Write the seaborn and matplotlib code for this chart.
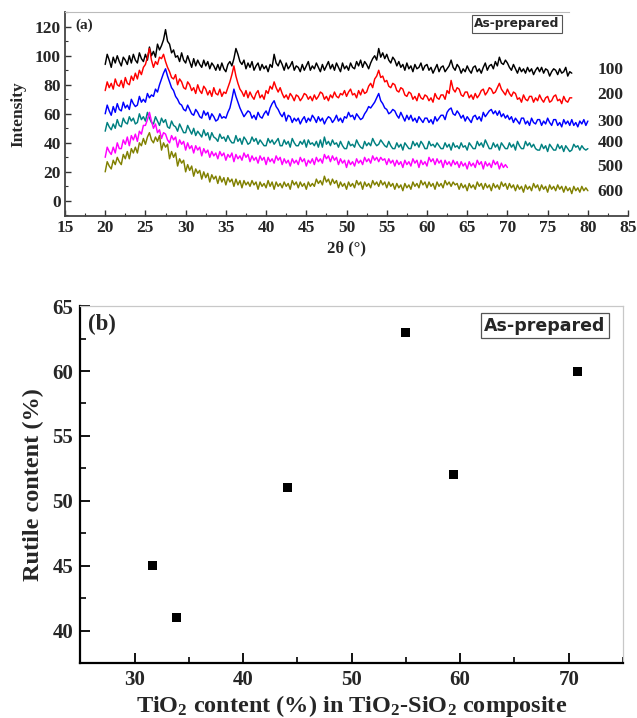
import numpy as np
import pandas as pd
import matplotlib
matplotlib.use("Agg")
import matplotlib.pyplot as plt
from matplotlib.ticker import MultipleLocator
import seaborn as sns

# ---------------- data: panel (a) XRD traces (2theta from 20 deg, step 0.25 deg) ----------------
x_start = 20.0
x_step = 0.25
trace_100 = [94, 101, 97, 92, 99, 95, 100, 96,
             93, 99, 97, 94, 100, 95, 101, 97,
             95, 102, 98, 96, 101, 97, 106, 100,
             103, 99, 108, 104, 107, 111, 118, 110,
             108, 102, 104, 99, 100, 96, 102, 97,
             95, 100, 96, 92, 98, 93, 97, 94,
             92, 97, 93, 96, 91, 95, 93, 90,
             94, 90, 95, 91, 89, 94, 96, 93,
             98, 105, 101, 96, 94, 97, 91, 95,
             92, 96, 90, 93, 95, 90, 94, 91,
             93, 89, 94, 92, 101, 95, 93, 97,
             94, 90, 95, 91, 93, 96, 90, 93,
             92, 89, 94, 90, 93, 96, 90, 93,
             91, 95, 92, 89, 94, 90, 93, 96,
             91, 94, 90, 95, 92, 89, 95, 91,
             93, 90, 95, 92, 91, 96, 93, 97,
             92, 96, 94, 91, 95, 98, 100, 97,
             105, 99, 102, 98, 101, 97, 95, 99,
             97, 93, 96, 92, 94, 90, 95, 91,
             93, 89, 94, 91, 92, 95, 90, 93,
             94, 90, 92, 88, 91, 94, 89, 92,
             93, 89, 91, 93, 97, 92, 90, 94,
             92, 88, 91, 89, 93, 90, 88, 92,
             93, 89, 91, 88, 92, 95, 90, 93,
             94, 91, 96, 93, 99, 95, 94, 97,
             95, 92, 90, 94, 91, 88, 92, 89,
             91, 88, 92, 89, 91, 87, 90, 92,
             89, 92, 88, 91, 90, 86, 89, 91,
             90, 87, 91, 88, 89, 92, 86, 89,
             88]
trace_200 = [76, 82, 78, 81, 77, 84, 80, 79,
             83, 78, 85, 81, 80, 86, 83, 88,
             84, 90, 87, 92, 94, 99, 105, 97,
             92, 96, 94, 99, 98, 101, 96, 92,
             89, 85, 84, 87, 80, 84, 82, 78,
             77, 82, 80, 76, 78, 74, 80, 76,
             74, 79, 77, 73, 76, 72, 78, 74,
             73, 77, 72, 75, 74, 78, 82, 87,
             93, 86, 81, 77, 75, 72, 76, 71,
             75, 72, 70, 74, 76, 71, 73, 70,
             76, 74, 79, 77, 82, 78, 75, 78,
             74, 71, 73, 70, 74, 72, 69, 73,
             72, 69, 71, 74, 73, 70, 72, 69,
             73, 70, 72, 75, 74, 70, 72, 69,
             73, 71, 75, 72, 71, 74, 73, 76,
             72, 75, 77, 73, 74, 71, 76, 73,
             77, 74, 75, 79, 81, 78, 84, 86,
             90, 85, 86, 82, 83, 79, 78, 81,
             80, 76, 75, 78, 77, 73, 72, 75,
             74, 70, 72, 69, 74, 71, 70, 73,
             72, 69, 71, 68, 74, 71, 70, 73,
             73, 70, 76, 74, 83, 77, 75, 78,
             77, 73, 72, 75, 75, 71, 73, 70,
             74, 71, 73, 76, 77, 73, 75, 78,
             77, 74, 75, 78, 81, 77, 75, 73,
             77, 74, 72, 75, 74, 70, 71, 68,
             73, 70, 69, 72, 72, 68, 71, 69,
             73, 70, 68, 71, 72, 68, 69, 72,
             73, 69, 70, 67, 72, 69, 68, 71,
             71]
trace_300 = [60, 66, 62, 59, 65, 61, 67, 63,
             62, 68, 64, 66, 63, 70, 67, 65,
             66, 72, 68, 70, 68, 74, 71, 73,
             72, 77, 75, 80, 84, 88, 91, 86,
             82, 78, 76, 72, 70, 67, 66, 63,
             62, 66, 63, 60, 59, 63, 61, 58,
             57, 62, 59, 61, 56, 60, 58, 55,
             56, 60, 57, 58, 57, 61, 64, 70,
             77, 72, 68, 64, 61, 58, 60, 62,
             61, 57, 59, 56, 61, 58, 57, 60,
             62, 59, 64, 67, 69, 65, 63, 60,
             58, 61, 55, 59, 58, 54, 57, 55,
             57, 53, 56, 58, 54, 57, 55, 59,
             57, 54, 58, 55, 57, 53, 56, 58,
             57, 54, 56, 59, 55, 57, 54, 58,
             57, 61, 58, 59, 56, 60, 58, 56,
             57, 60, 62, 65, 64, 66, 68, 71,
             74, 69, 67, 64, 63, 60, 61, 63,
             62, 59, 57, 61, 58, 55, 59, 56,
             59, 55, 57, 54, 58, 56, 54, 57,
             57, 54, 56, 53, 58, 55, 57, 59,
             59, 56, 61, 63, 64, 60, 59, 62,
             60, 57, 59, 55, 58, 56, 54, 58,
             59, 56, 58, 55, 61, 58, 60, 62,
             63, 60, 62, 59, 62, 58, 60, 57,
             59, 56, 58, 54, 57, 55, 53, 57,
             57, 53, 55, 52, 57, 54, 53, 56,
             56, 52, 55, 53, 57, 54, 52, 56,
             56, 52, 54, 51, 56, 53, 55, 52,
             56, 52, 54, 51, 55, 53, 56, 52,
             55]
trace_400 = [48, 54, 51, 49, 53, 50, 56, 52,
             51, 57, 54, 53, 58, 55, 57, 53,
             54, 60, 56, 58, 55, 61, 57, 54,
             53, 58, 55, 52, 57, 54, 56, 51,
             50, 55, 52, 51, 48, 53, 50, 47,
             47, 52, 49, 46, 50, 45, 48, 46,
             44, 49, 45, 47, 42, 47, 44, 43,
             41, 46, 43, 44, 41, 45, 42, 40,
             40, 45, 41, 43, 39, 44, 42, 39,
             40, 44, 41, 43, 39, 42, 40, 38,
             38, 43, 40, 42, 39, 41, 43, 38,
             38, 42, 39, 41, 37, 43, 40, 38,
             38, 41, 39, 42, 37, 42, 39, 40,
             38, 41, 37, 42, 37, 44, 39, 41,
             38, 42, 39, 40, 37, 41, 38, 36,
             36, 41, 38, 39, 37, 42, 39, 37,
             36, 41, 38, 40, 38, 43, 40, 38,
             39, 42, 40, 38, 37, 41, 38, 36,
             36, 40, 37, 39, 35, 40, 38, 36,
             36, 41, 38, 40, 37, 41, 39, 36,
             36, 41, 38, 39, 37, 40, 38, 36,
             36, 40, 37, 39, 35, 40, 37, 38,
             36, 40, 37, 38, 35, 40, 38, 36,
             36, 41, 38, 40, 37, 42, 39, 36,
             36, 40, 37, 39, 35, 40, 38, 36,
             36, 40, 37, 39, 35, 41, 38, 36,
             36, 41, 38, 40, 37, 39, 36, 35,
             35, 39, 36, 38, 34, 39, 37, 35,
             35, 39, 36, 38, 34, 38, 36, 34,
             35, 39, 37, 38, 35, 38, 36, 35,
             36]
trace_500 = [30, 37, 34, 32, 37, 33, 40, 36,
             36, 42, 39, 44, 38, 45, 42, 46,
             41, 48, 46, 52, 52, 56, 61, 55,
             50, 53, 47, 49, 43, 47, 46, 42,
             40, 45, 42, 44, 37, 42, 39, 41,
             35, 40, 36, 38, 33, 38, 35, 37,
             31, 36, 33, 35, 30, 34, 31, 33,
             29, 34, 31, 33, 28, 32, 30, 33,
             27, 32, 29, 31, 28, 33, 30, 32,
             27, 31, 28, 30, 26, 31, 28, 30,
             25, 30, 27, 29, 26, 31, 28, 30,
             25, 29, 26, 28, 24, 29, 26, 28,
             25, 30, 27, 29, 24, 28, 26, 29,
             25, 30, 27, 29, 26, 32, 29, 31,
             27, 31, 28, 30, 25, 29, 26, 28,
             23, 28, 25, 27, 24, 29, 26, 28,
             25, 30, 27, 29, 26, 31, 28, 30,
             27, 30, 28, 29, 25, 29, 26, 28,
             24, 28, 25, 27, 23, 28, 25, 27,
             24, 29, 26, 28, 23, 28, 25, 27,
             24, 30, 27, 29, 25, 29, 26, 28,
             23, 28, 25, 27, 24, 28, 25, 27,
             23, 27, 24, 26, 22, 27, 24, 26,
             23, 28, 25, 27, 22, 27, 24, 26,
             23, 28, 25, 27, 22, 26, 23, 25,
             23]
trace_600 = [20, 27, 24, 22, 28, 25, 30, 27,
             25, 32, 29, 34, 29, 36, 33, 37,
             33, 40, 38, 43, 39, 44, 47, 42,
             40, 44, 41, 45, 35, 40, 37, 39,
             29, 34, 30, 33, 24, 29, 26, 28,
             20, 25, 21, 24, 17, 22, 19, 21,
             15, 20, 16, 19, 13, 18, 15, 17,
             12, 17, 13, 16, 11, 16, 13, 15,
             10, 15, 11, 14, 9, 14, 11, 13,
             10, 14, 11, 13, 8, 13, 10, 12,
             9, 14, 10, 13, 8, 13, 10, 12,
             9, 13, 10, 12, 8, 14, 11, 13,
             9, 13, 10, 12, 8, 13, 10, 12,
             10, 15, 12, 14, 11, 17, 13, 15,
             11, 15, 12, 14, 9, 13, 10, 12,
             8, 13, 10, 12, 9, 14, 11, 13,
             8, 13, 10, 12, 9, 14, 11, 13,
             10, 14, 11, 13, 9, 13, 10, 12,
             8, 12, 9, 11, 7, 12, 9, 11,
             8, 13, 10, 12, 9, 14, 11, 13,
             9, 13, 10, 12, 8, 13, 10, 12,
             9, 14, 11, 13, 10, 13, 11, 12,
             8, 12, 9, 11, 7, 12, 9, 11,
             8, 13, 10, 12, 8, 12, 9, 11,
             7, 12, 9, 11, 8, 13, 10, 12,
             8, 12, 9, 11, 7, 11, 8, 10,
             6, 11, 8, 10, 7, 12, 9, 11,
             7, 11, 8, 10, 6, 11, 8, 10,
             7, 11, 8, 10, 6, 10, 7, 9,
             5, 10, 7, 9, 6, 10, 7, 9,
             7]
trace_names = ["100", "200", "300", "400", "500", "600"]
trace_colors = ["#000000", "#FF0000", "#0000FF", "#008080", "#FF00FF", "#808000"]
trace_label_y = [90, 73, 54.5, 40, 23.4, 6]

# ---------------- data: panel (b) ----------------
tio2_content = [31.7, 33.9, 44.1, 55.0, 59.4, 70.8]
rutile_content = [45, 41, 51, 63, 52, 60]

# ---------------- style ----------------
sns.set_theme(style="ticks")
plt.rcParams["font.family"] = ["Liberation Serif", "DejaVu Serif"]
plt.rcParams["font.weight"] = "bold"
plt.rcParams["mathtext.fontset"] = "custom"
plt.rcParams["mathtext.rm"] = "Liberation Serif:bold"
plt.rcParams["mathtext.it"] = "Liberation Serif:bold"
plt.rcParams["mathtext.bf"] = "Liberation Serif:bold"
plt.rcParams["mathtext.default"] = "rm"

fig = plt.figure(figsize=(6.37, 7.18), dpi=100)

# ---------------- panel (a) ----------------
axa = fig.add_axes([0.102, 0.699, 0.884, 0.284])
traces = [trace_100, trace_200, trace_300, trace_400, trace_500, trace_600]
frames = []
for name, vals in zip(trace_names, traces):
    xs = x_start + x_step * np.arange(len(vals))
    frames.append(pd.DataFrame({"two_theta": xs, "intensity": vals, "sample": name}))
df_a = pd.concat(frames, ignore_index=True)
sns.lineplot(data=df_a, x="two_theta", y="intensity", hue="sample",
             palette=dict(zip(trace_names, trace_colors)), estimator=None,
             sort=False, linewidth=1.05, legend=False, ax=axa)

axa.set_xlim(15, 85)
axa.set_ylim(-10.5, 130)
axa.xaxis.set_major_locator(MultipleLocator(5))
axa.xaxis.set_minor_locator(MultipleLocator(2.5))
axa.yaxis.set_major_locator(MultipleLocator(20))
axa.yaxis.set_minor_locator(MultipleLocator(10))
axa.set_yticks([0, 20, 40, 60, 80, 100, 120])
axa.tick_params(which="both", direction="in", color="#333333")
axa.tick_params(which="major", length=4, width=1.0, labelsize=12.5, pad=3)
axa.tick_params(which="minor", length=2.5, width=0.8)
for lab in axa.get_xticklabels() + axa.get_yticklabels():
    lab.set_fontweight("bold")
axa.spines["right"].set_visible(False)
axa.spines["top"].set_color("#bbbbbb")
axa.spines["top"].set_linewidth(0.8)
axa.spines["top"].set_bounds(15, 77.7)
for s in ("left", "bottom"):
    axa.spines[s].set_color("#444444")
    axa.spines[s].set_linewidth(1.3)
axa.set_xlabel("2θ (°)", fontsize=12, fontweight="bold", labelpad=3)
axa.set_ylabel("Intensity", fontsize=12.5, fontweight="bold", labelpad=6)
axa.text(16.3, 121, "(a)", fontsize=11, fontweight="bold", va="center", ha="left")
axa.text(71.2, 122, "As-prepared", fontsize=8.8, fontweight="bold", family="DejaVu Sans",
         va="center", ha="center",
         bbox=dict(boxstyle="square,pad=0.22", fc="white", ec="#555555", lw=0.8))
for name, ly in zip(trace_names, trace_label_y):
    axa.text(82.8, ly, name, fontsize=12.5, fontweight="bold", va="center", ha="center",
             clip_on=False)

# ---------------- panel (b) ----------------
axb = fig.add_axes([0.126, 0.0766, 0.852, 0.497])
df_b = pd.DataFrame({"tio2": tio2_content, "rutile": rutile_content})
sns.scatterplot(data=df_b, x="tio2", y="rutile", marker="s", color="black",
                s=42, edgecolor="none", ax=axb)
axb.set_xlim(25, 75)
axb.set_ylim(37.5, 65)
axb.xaxis.set_major_locator(MultipleLocator(10))
axb.xaxis.set_minor_locator(MultipleLocator(5))
axb.yaxis.set_major_locator(MultipleLocator(5))
axb.yaxis.set_minor_locator(MultipleLocator(2.5))
axb.set_xticks([30, 40, 50, 60, 70])
axb.set_yticks([40, 45, 50, 55, 60, 65])
axb.tick_params(which="both", direction="in", color="black")
axb.tick_params(which="major", length=7, width=1.3, labelsize=15, pad=5)
axb.tick_params(which="minor", length=4, width=1.2)
for lab in axb.get_xticklabels() + axb.get_yticklabels():
    lab.set_fontweight("bold")
for s in ("top", "right"):
    axb.spines[s].set_color("#c8c8c8")
    axb.spines[s].set_linewidth(0.9)
for s in ("left", "bottom"):
    axb.spines[s].set_color("black")
    axb.spines[s].set_linewidth(1.6)
axb.set_xlabel(r"TiO$_2$ content (%) in TiO$_2$-SiO$_2$ composite",
               fontsize=17.5, fontweight="bold", labelpad=2)
axb.set_ylabel("Rutile content (%)", fontsize=17.5, fontweight="bold", labelpad=6)
axb.text(25.7, 63.6, "(b)", fontsize=16.5, fontweight="bold", va="center", ha="left")
axb.text(67.8, 63.5, "As-prepared", fontsize=12.5, fontweight="bold", family="DejaVu Sans",
         va="center", ha="center",
         bbox=dict(boxstyle="square,pad=0.2", fc="white", ec="#555555", lw=0.9))

fig.savefig("out.png", dpi=100)
